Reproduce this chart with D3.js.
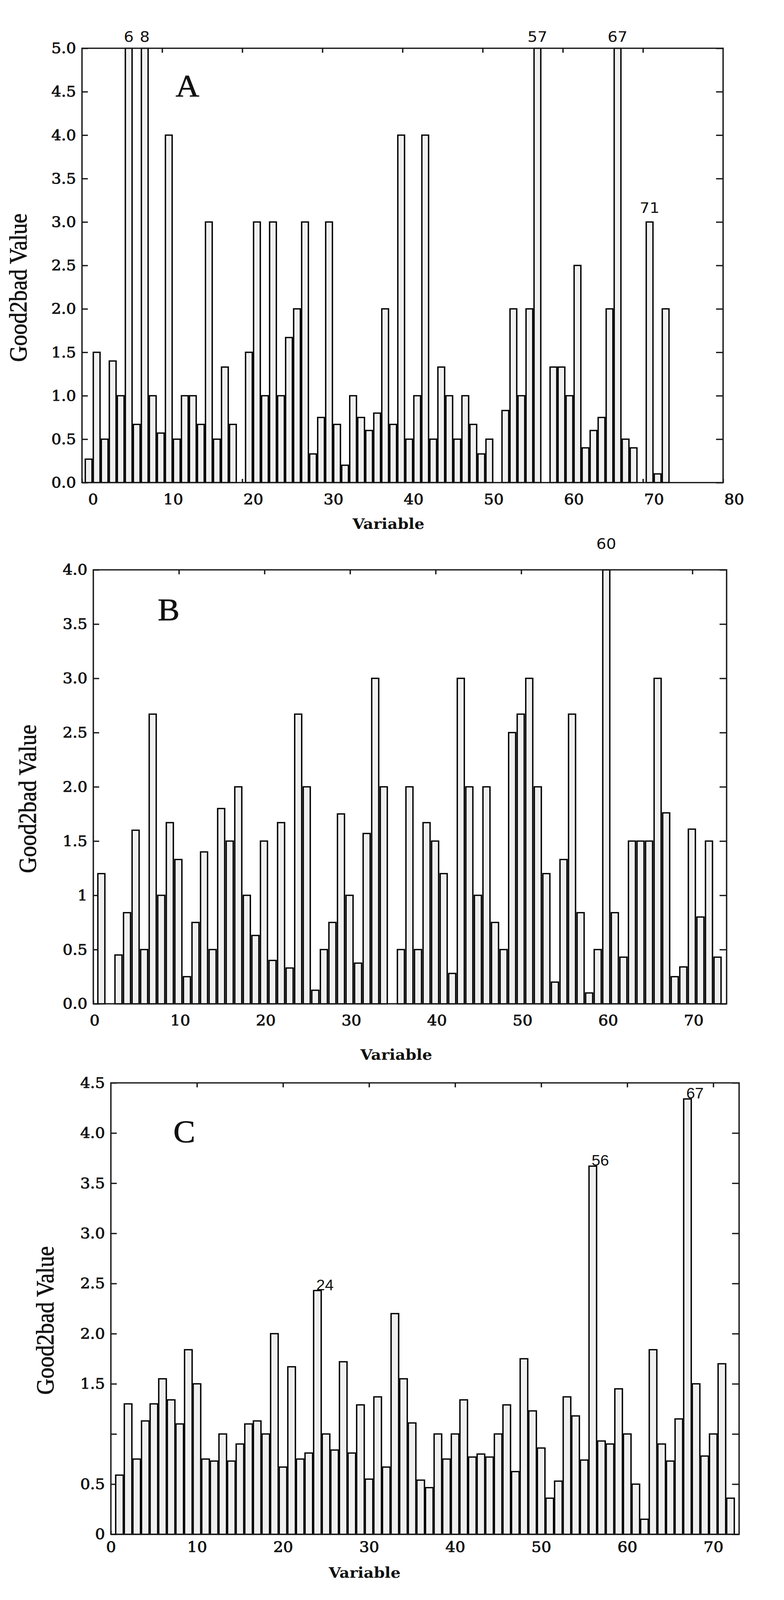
<!DOCTYPE html>
<html>
<head>
<meta charset="utf-8">
<script src="https://cdn.jsdelivr.net/npm/d3@7"></script>
<style>
  html, body { margin: 0; padding: 0; height: 100%; overflow: hidden; background: #fff; }
  #chart { width: 100vw; height: 100vh; }
  svg { display: block; }
</style>
</head>
<body>
<div id="chart"></div>
<script>
// Good2bad value per variable, three panels (A, B, C)
const valuesA = [0.27, 1.5, 0.5, 1.4, 1.0, 5.0, 0.67, 5.0, 1.0, 0.57,
  4.0, 0.5, 1.0, 1.0, 0.67, 3.0, 0.5, 1.33, 0.67, 0,
  1.5, 3.0, 1.0, 3.0, 1.0, 1.67, 2.0, 3.0, 0.33, 0.75,
  3.0, 0.67, 0.2, 1.0, 0.75, 0.6, 0.8, 2.0, 0.67, 4.0,
  0.5, 1.0, 4.0, 0.5, 1.33, 1.0, 0.5, 1.0, 0.67, 0.33,
  0.5, 0, 0.83, 2.0, 1.0, 2.0, 5.0, 0, 1.33, 1.33,
  1.0, 2.5, 0.4, 0.6, 0.75, 2.0, 5.0, 0.5, 0.4, 0,
  3.0, 0.1, 2.0];

const valuesB = [1.2, 0, 0.45, 0.84, 1.6, 0.5, 2.67, 1.0, 1.67, 1.33,
  0.25, 0.75, 1.4, 0.5, 1.8, 1.5, 2.0, 1.0, 0.63, 1.5,
  0.4, 1.67, 0.33, 2.67, 2.0, 0.125, 0.5, 0.75, 1.75, 1.0,
  0.375, 1.57, 3.0, 2.0, 0, 0.5, 2.0, 0.5, 1.67, 1.5,
  1.2, 0.28, 3.0, 2.0, 1.0, 2.0, 0.75, 0.5, 2.5, 2.67,
  3.0, 2.0, 1.2, 0.2, 1.33, 2.67, 0.84, 0.1, 0.5, 4.0,
  0.84, 0.43, 1.5, 1.5, 1.5, 3.0, 1.76, 0.25, 0.34, 1.61,
  0.8, 1.5, 0.43];

const valuesC = [0.59, 1.3, 0.75, 1.13, 1.3, 1.55, 1.34, 1.1, 1.84, 1.5,
  0.75, 0.73, 1.0, 0.73, 0.9, 1.1, 1.13, 1.0, 2.0, 0.67,
  1.67, 0.75, 0.81, 2.43, 1.0, 0.84, 1.72, 0.81, 1.29, 0.55,
  1.37, 0.67, 2.2, 1.55, 1.11, 0.54, 0.465, 1.0, 0.75, 1.0,
  1.34, 0.77, 0.8, 0.77, 1.0, 1.29, 0.625, 1.75, 1.23, 0.86,
  0.36, 0.53, 1.37, 1.18, 0.74, 3.67, 0.93, 0.9, 1.45, 1.0,
  0.5, 0.15, 1.84, 0.9, 0.73, 1.15, 4.34, 1.5, 0.78, 1.0,
  1.7, 0.36];

// labelled variables
const labelledA = [6, 8, 57, 67, 71];
const labelledB = [60];
const labelledC = [24, 56, 67];

// tick values and labels
const yTicksA = [0, 0.5, 1, 1.5, 2, 2.5, 3, 3.5, 4, 4.5, 5];
const yLabelsA = ["0.0", "0.5", "1.0", "1.5", "2.0", "2.5", "3.0", "3.5", "4.0", "4.5", "5.0"];
const yTicksB = [0, 0.5, 1, 1.5, 2, 2.5, 3, 3.5, 4];
const yLabelsB = ["0.0", "0.5", "1", "1.5", "2.0", "2.5", "3.0", "3.5", "4.0"];
const yTicksC = [0, 0.5, 1, 1.5, 2, 2.5, 3, 3.5, 4, 4.5];
const yLabelsC = ["0", "0.5", "", "1.5", "2.0", "2.5", "3.0", "3.5", "4.0", "4.5"];
const xTicksA = [0, 10, 20, 30, 40, 50, 60, 70, 80];
const xTicksBC = [0, 10, 20, 30, 40, 50, 60, 70];

const yTitle = "Good2bad Value";
const xTitle = "Variable";

const panels = [
  {
    letter: "A", values: valuesA, labelled: labelledA,
    yTicks: yTicksA, yLabels: yLabelsA, xTicks: xTicksA, xMax: 80, yMax: 5,
    left: 210, right: 1852, top: 130, bottom: 1300,
    shift: -0.17, barW: 0.84, xLabelDx: 28, xPad: 30,
    letterPos: [480, 260], yTitlePos: [68, 775], xTitlePos: [995, 1425],
    labelFont: "DejaVu Sans", labelAnchor: "middle", clipGap: 17, gap: 24
  },
  {
    letter: "B", values: valuesB, labelled: labelledB,
    yTicks: yTicksB, yLabels: yLabelsB, xTicks: xTicksBC, xMax: 74, yMax: 4,
    left: 239, right: 1861, top: 1535, bottom: 2704,
    shift: -0.06, barW: 0.82, xLabelDx: 3, xPad: 30,
    letterPos: [432, 1671], yTitlePos: [92, 2152], xTitlePos: [1015, 2855],
    labelFont: "DejaVu Sans", labelAnchor: "middle", clipGap: 57, gap: 24
  },
  {
    letter: "C", values: valuesC, labelled: labelledC,
    yTicks: yTicksC, yLabels: yLabelsC, xTicks: xTicksBC, xMax: 73, yMax: 4.5,
    left: 284, right: 1893, top: 2917, bottom: 4133,
    shift: 0, barW: 0.88, xLabelDx: 0, xPad: 19,
    letterPos: [472, 3077], yTitlePos: [137, 3557], xTitlePos: [934, 4250],
    labelFont: "Liberation Sans", labelAnchor: "start", clipGap: 0, gap: 1
  }
];

// drawn in 2008x4310 units, stretched to whatever the viewport really is
const svg = d3.select("#chart")
  .append("svg")
  .attr("viewBox", [0, 0, 2008, 4310])
  .attr("preserveAspectRatio", "none")
  .style("width", "100%")
  .style("height", "100%");

svg.append("rect").attr("width", 2008).attr("height", 4310).attr("fill", "#fff");

panels.forEach((p) => {
  const g = svg.append("g");

  const x = d3.scaleLinear().domain([0, p.xMax]).range([p.left, p.right]);
  const y = d3.scaleLinear().domain([0, p.yMax]).range([p.bottom, p.top]).clamp(true);

  const styleAxis = (ax) => {
    ax.select(".domain").remove();
    ax.attr("font-family", "DejaVu Serif").attr("font-size", 40).attr("fill", "#111");
    ax.selectAll(".tick line").attr("stroke", "#1a1a1a").attr("stroke-width", 3.5);
    ax.selectAll(".tick text")
      .attr("fill", "#111")
      .attr("stroke", "#111")
      .attr("stroke-width", 1.2);
  };

  // left axis, ticks pointing inward
  g.append("g")
    .attr("transform", `translate(${p.left},0)`)
    .call(
      d3.axisLeft(y)
        .tickValues(p.yTicks)
        .tickFormat((d, i) => p.yLabels[i])
        .tickSizeInner(-15)
        .tickSizeOuter(0)
        .tickPadding(15)
    )
    .call(styleAxis);

  // right axis, ticks only
  g.append("g")
    .attr("transform", `translate(${p.right},0)`)
    .call(d3.axisRight(y).tickValues(p.yTicks).tickFormat("").tickSizeInner(-18).tickSizeOuter(0))
    .call(styleAxis);

  // bottom axis
  g.append("g")
    .attr("transform", `translate(0,${p.bottom})`)
    .call(
      d3.axisBottom(x)
        .tickValues(p.xTicks)
        .tickFormat(d3.format("d"))
        .tickSizeInner(-10)
        .tickSizeOuter(0)
        .tickPadding(p.xPad)
    )
    .call(styleAxis)
    .call((ax) => ax.selectAll(".tick text").attr("dx", p.xLabelDx));

  // top axis, ticks only
  g.append("g")
    .attr("transform", `translate(0,${p.top})`)
    .call(d3.axisTop(x).tickValues(p.xTicks.filter((d) => d > 0 && d < p.xMax)).tickFormat("").tickSizeInner(-12).tickSizeOuter(0))
    .call(styleAxis);

  const bars = p.values
    .map((v, i) => ({ n: i + 1, v: v }))
    .filter((d) => d.v > 0);

  const bw = x(p.barW) - x(0);

  g.selectAll("rect.bar")
    .data(bars)
    .join("rect")
    .attr("class", "bar")
    .attr("x", (d) => x(d.n + p.shift) - bw / 2)
    .attr("width", bw)
    .attr("y", (d) => y(d.v))
    .attr("height", (d) => y(0) - y(d.v))
    .attr("fill", "#f0f0f0")
    .attr("stroke", "#000")
    .attr("stroke-width", 3.5);

  // frame
  g.append("rect")
    .attr("x", p.left)
    .attr("y", p.top)
    .attr("width", p.right - p.left)
    .attr("height", p.bottom - p.top)
    .attr("fill", "none")
    .attr("stroke", "#1a1a1a")
    .attr("stroke-width", 3.5);

  // labels over the highlighted bars
  g.selectAll("text.bar-label")
    .data(p.labelled)
    .join("text")
    .attr("class", "bar-label")
    .attr("x", (n) => x(n + p.shift) - (p.labelAnchor === "start" ? 3 : 0))
    .attr("y", (n) => {
      const v = p.values[n - 1];
      return v >= p.yMax ? p.top - p.clipGap : y(v) - p.gap;
    })
    .attr("text-anchor", p.labelAnchor)
    .attr("font-family", p.labelFont)
    .attr("font-size", 40)
    .attr("fill", "#111")
    .text((n) => n);

  // panel letter
  g.append("text")
    .attr("x", p.letterPos[0])
    .attr("y", p.letterPos[1])
    .attr("text-anchor", "middle")
    .attr("font-family", "Liberation Serif")
    .attr("font-size", 84)
    .attr("fill", "#111")
    .attr("stroke", "#111")
    .attr("stroke-width", 1)
    .text(p.letter);

  // axis titles
  g.append("text")
    .attr("transform", `translate(${p.yTitlePos[0]},${p.yTitlePos[1]}) rotate(-90)`)
    .attr("text-anchor", "middle")
    .attr("font-family", "Liberation Serif")
    .attr("font-size", 64)
    .attr("textLength", 400)
    .attr("lengthAdjust", "spacingAndGlyphs")
    .attr("fill", "#111")
    .attr("stroke", "#111")
    .attr("stroke-width", 1)
    .text(yTitle);

  g.append("text")
    .attr("x", p.xTitlePos[0])
    .attr("y", p.xTitlePos[1])
    .attr("text-anchor", "middle")
    .attr("font-family", "DejaVu Serif")
    .attr("font-weight", "bold")
    .attr("font-size", 40)
    .attr("fill", "#111")
    .text(xTitle);
});
</script>
</body>
</html>
